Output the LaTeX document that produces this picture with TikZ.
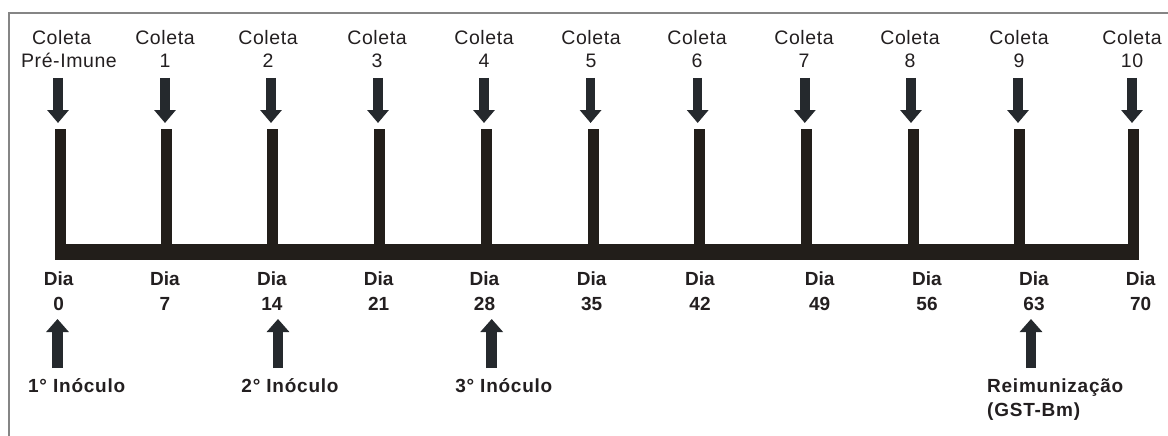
\documentclass[tikz,border=0pt]{standalone}
\usepackage{fontspec}
\setmainfont{Liberation Sans}
\usetikzlibrary{arrows.meta}
\definecolor{barc}{HTML}{221E1A}
\definecolor{arrc}{HTML}{25292D}
\definecolor{txtc}{HTML}{231F20}
\definecolor{framec}{HTML}{858585}
\begin{document}
\begin{tikzpicture}[x=1pt,y=-1pt,
  lbl/.style={anchor=base, inner sep=0pt, text=txtc,
    font=\fontsize{19.5}{23}\selectfont\addfontfeatures{LetterSpace=3}},
  daylbl/.style={anchor=base, inner sep=0pt, text=txtc,
    font=\fontsize{19}{23}\selectfont\bfseries},
  doselbl/.style={anchor=base, inner sep=0pt, text=txtc,
    font=\fontsize{19}{23}\selectfont\bfseries\addfontfeatures{LetterSpace=4}},
  downarrow/.style={arrc, line width=9.5pt, -{Triangle[width=21pt,length=13pt]}},
  uparrow/.style={arrc, line width=10.5pt, -{Triangle[width=22pt,length=13pt]}},
  timebar/.style={fill=barc, draw=none}]
\useasboundingbox (0,0) rectangle (1168,436);
\fill[white] (0,0) rectangle (1168,436);

% open frame: top and left edges only
\draw[framec, line width=1.5pt] (9,436) -- (9,13) -- (1168,13);

% time line: horizontal base and one post per collection
\fill[timebar] (55.2,244) rectangle (1138.5,260);
\foreach \bx in {60.7,166.5,272.7,379,486,593,699,806,913,1019.5,1133}
  \fill[timebar] (\bx-5.5,129) rectangle (\bx+5.5,260);

% collection labels
\node[lbl] (colA0) at (61.7,45) {Coleta};
\node[lbl] (colB0) at (69,68) {Pré-Imune};
\foreach \i/\lx in {1/165,2/268,3/377,4/484,5/591,6/697,7/804,8/910,9/1019,10/1132}{
  \node[lbl] (colA\i) at (\lx,45) {Coleta};
  \node[lbl] (colB\i) at (\lx,68) {\i};
}

% collection arrows pointing down to the posts
\foreach \i/\ax in {0/58,1/165,2/271,3/378,4/484,5/590.6,6/697.7,7/804.8,8/911,9/1018,10/1132}{
  \coordinate (dTop\i) at (\ax,78);
  \coordinate (dTip\i) at (\ax,123);
  \draw[downarrow] (dTop\i) -- (dTip\i);
}

% day labels under the base line
\foreach \d/\dx in {0/58.7,7/165,14/272,21/378.7,28/484.5,35/591.7,42/700,49/819.7,56/927,63/1034,70/1140.7}{
  \node[daylbl] (diaA\d) at (\dx,285.7) {Dia};
  \node[daylbl] (diaB\d) at (\dx,310.7) {\d};
}

% inoculation arrows and labels
\node[doselbl] (dose1) at (76.7,392.7) {1° Inóculo};
\node[doselbl] (dose2) at (290,392.7) {2° Inóculo};
\node[doselbl] (dose3) at (503.8,392.7) {3° Inóculo};
\node[doselbl, anchor=base west] (dose4) at (987,392.7) {Reimunização};
\node[doselbl, anchor=base west] (dose4b) at (987,416.7) {(GST-Bm)};

\foreach \k/\ux in {1/57.5,2/278,3/491.7,4/1031}{
  \coordinate (uBot\k) at (\ux,368);
  \coordinate (uTip\k) at (\ux,319);
  \draw[uparrow] (uBot\k) -- (uTip\k);
}
\end{tikzpicture}
\end{document}
